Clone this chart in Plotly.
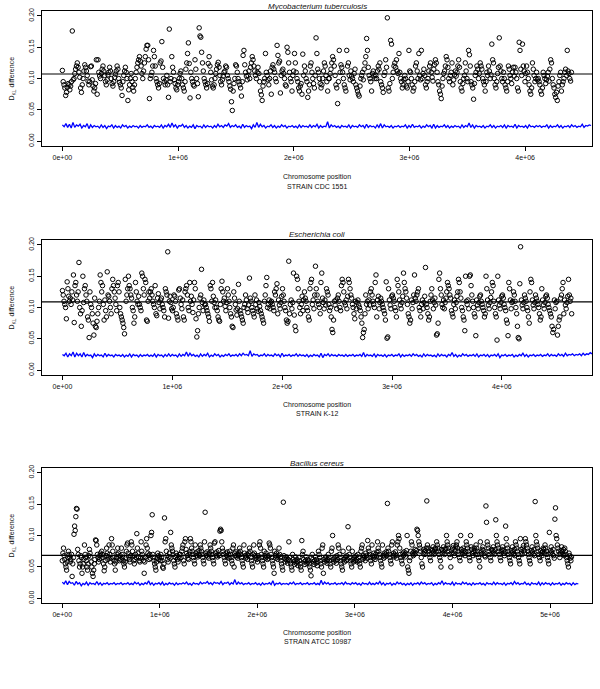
import numpy as np
import plotly.graph_objects as go

# ---------------- data ----------------
titles = ["Mycobacterium tuberculosis", "Escherichia coli", "Bacillus cereus"]
strains = ["STRAIN CDC 1551", "STRAIN K-12", "STRAIN ATCC 10987"]
x_ticks = [0, 1e6, 2e6, 3e6, 4e6, 5e6]
x_tick_labels = ["0e+00", "1e+06", "2e+06", "3e+06", "4e+06", "5e+06"]
y_ticks = [0.0, 0.05, 0.10, 0.15, 0.20]
y_tick_labels = ["0.00", "0.05", "0.10", "0.15", "0.20"]

mean_dkl = [0.1073, 0.1089, 0.0685]
scatter_end = [4.40e6, 4.635e6, 5.22e6]
blue_end = [4.57e6, 4.82e6, 5.29e6]
x_ranges = [[-0.176e6, 4.578e6], [-0.186e6, 4.82e6], [-0.208e6, 5.43e6]]

mtb_dkl = [
    0.113, 0.095, 0.090, 0.085, 0.073, 0.078, 0.086, 0.092, 0.090, 0.082, 0.088, 0.095, 0.176, 0.098,
    0.100, 0.108, 0.115, 0.120, 0.125, 0.118, 0.110, 0.102, 0.085, 0.078, 0.090, 0.100, 0.112, 0.122,
    0.118, 0.112, 0.105, 0.096, 0.090, 0.095, 0.119, 0.120, 0.098, 0.088, 0.080, 0.085, 0.092, 0.130,
    0.075, 0.130, 0.110, 0.104, 0.100, 0.108, 0.115, 0.120, 0.112, 0.105, 0.095, 0.090, 0.098, 0.106,
    0.110, 0.118, 0.112, 0.100, 0.092, 0.088, 0.095, 0.102, 0.107, 0.112, 0.120, 0.115, 0.100, 0.094,
    0.090, 0.085, 0.073, 0.095, 0.105, 0.112, 0.118, 0.110, 0.100, 0.065, 0.082, 0.090, 0.100, 0.108,
    0.095, 0.086, 0.080, 0.090, 0.100, 0.110, 0.118, 0.125, 0.130, 0.135, 0.128, 0.120, 0.108, 0.100,
    0.112, 0.125, 0.135, 0.147, 0.153, 0.153, 0.130, 0.068, 0.100, 0.105, 0.110, 0.120, 0.145, 0.135,
    0.120, 0.100, 0.095, 0.090, 0.085, 0.092, 0.125, 0.128, 0.159, 0.118, 0.100, 0.095, 0.090, 0.098,
    0.105, 0.090, 0.070, 0.179, 0.095, 0.100, 0.135, 0.118, 0.110, 0.098, 0.092, 0.085, 0.082, 0.090,
    0.095, 0.100, 0.108, 0.112, 0.100, 0.090, 0.085, 0.080, 0.095, 0.115, 0.125, 0.140, 0.157, 0.124,
    0.069, 0.110, 0.100, 0.095, 0.090, 0.088, 0.130, 0.115, 0.100, 0.092, 0.071, 0.181, 0.168, 0.166,
    0.142, 0.125, 0.112, 0.100, 0.095, 0.090, 0.085, 0.092, 0.124, 0.135, 0.120, 0.110, 0.098, 0.088,
    0.085, 0.090, 0.100, 0.108, 0.115, 0.122, 0.126, 0.118, 0.105, 0.095, 0.090, 0.098, 0.104, 0.110,
    0.112, 0.120, 0.118, 0.105, 0.100, 0.095, 0.088, 0.083, 0.063, 0.049, 0.080, 0.092, 0.100, 0.122,
    0.120, 0.110, 0.100, 0.095, 0.090, 0.085, 0.072, 0.095, 0.137, 0.145, 0.122, 0.110, 0.104, 0.098,
    0.105, 0.112, 0.100, 0.118, 0.125, 0.135, 0.130, 0.120, 0.112, 0.105, 0.100, 0.110, 0.118, 0.108,
    0.095, 0.080, 0.074, 0.065, 0.088, 0.095, 0.100, 0.140, 0.110, 0.105, 0.098, 0.090, 0.100, 0.112,
    0.075, 0.118, 0.122, 0.115, 0.110, 0.100, 0.095, 0.153, 0.137, 0.125, 0.128, 0.077, 0.105, 0.112,
    0.115, 0.108, 0.100, 0.090, 0.088, 0.150, 0.142, 0.125, 0.110, 0.100, 0.095, 0.080, 0.105, 0.112,
    0.140, 0.125, 0.110, 0.100, 0.095, 0.085, 0.080, 0.088, 0.092, 0.075, 0.139, 0.105, 0.120, 0.112,
    0.100, 0.095, 0.070, 0.080, 0.090, 0.120, 0.125, 0.110, 0.100, 0.092, 0.085, 0.105, 0.165, 0.140,
    0.115, 0.110, 0.100, 0.092, 0.085, 0.090, 0.100, 0.112, 0.125, 0.120, 0.105, 0.095, 0.080, 0.100,
    0.100, 0.108, 0.115, 0.125, 0.135, 0.130, 0.120, 0.105, 0.090, 0.085, 0.060, 0.095, 0.145, 0.110,
    0.122, 0.118, 0.110, 0.100, 0.090, 0.085, 0.080, 0.145, 0.120, 0.125, 0.105, 0.098, 0.112, 0.104,
    0.100, 0.095, 0.108, 0.115, 0.090, 0.085, 0.080, 0.075, 0.072, 0.088, 0.100, 0.105, 0.110, 0.098,
    0.115, 0.125, 0.135, 0.164, 0.145, 0.118, 0.105, 0.100, 0.095, 0.080, 0.108, 0.112, 0.104, 0.100,
    0.105, 0.100, 0.112, 0.120, 0.115, 0.125, 0.095, 0.090, 0.085, 0.078, 0.105, 0.110, 0.130, 0.118,
    0.197, 0.085, 0.080, 0.092, 0.161, 0.155, 0.100, 0.110, 0.120, 0.125, 0.118, 0.130, 0.112, 0.108,
    0.140, 0.110, 0.100, 0.095, 0.085, 0.090, 0.098, 0.105, 0.100, 0.088, 0.085, 0.095, 0.145, 0.112,
    0.110, 0.100, 0.090, 0.080, 0.085, 0.095, 0.120, 0.125, 0.112, 0.100, 0.140, 0.105, 0.098, 0.145,
    0.100, 0.108, 0.115, 0.105, 0.090, 0.085, 0.095, 0.100, 0.112, 0.120, 0.125, 0.110, 0.102, 0.096,
    0.115, 0.122, 0.130, 0.125, 0.110, 0.095, 0.090, 0.080, 0.075, 0.068, 0.088, 0.100, 0.108, 0.112,
    0.120, 0.135, 0.130, 0.118, 0.100, 0.095, 0.105, 0.110, 0.125, 0.090, 0.098, 0.106, 0.112, 0.104,
    0.110, 0.120, 0.130, 0.118, 0.095, 0.085, 0.080, 0.092, 0.100, 0.105, 0.125, 0.112, 0.100, 0.095,
    0.145, 0.138, 0.120, 0.095, 0.090, 0.085, 0.067, 0.092, 0.105, 0.110, 0.120, 0.115, 0.100, 0.108,
    0.125, 0.120, 0.115, 0.100, 0.095, 0.090, 0.080, 0.095, 0.110, 0.105, 0.120, 0.112, 0.100, 0.106,
    0.155, 0.130, 0.125, 0.100, 0.090, 0.085, 0.095, 0.108, 0.118, 0.165, 0.120, 0.112, 0.100, 0.095,
    0.110, 0.100, 0.090, 0.085, 0.080, 0.095, 0.120, 0.115, 0.105, 0.100, 0.092, 0.110, 0.118, 0.104,
    0.118, 0.110, 0.100, 0.085, 0.080, 0.158, 0.145, 0.115, 0.105, 0.155, 0.120, 0.112, 0.095, 0.108,
    0.120, 0.110, 0.100, 0.090, 0.080, 0.075, 0.085, 0.125, 0.115, 0.105, 0.095, 0.100, 0.110, 0.098,
    0.100, 0.095, 0.090, 0.080, 0.075, 0.085, 0.110, 0.105, 0.100, 0.092, 0.098, 0.104, 0.110, 0.096,
    0.115, 0.130, 0.125, 0.100, 0.090, 0.085, 0.075, 0.070, 0.078, 0.065, 0.088, 0.095, 0.105, 0.110,
    0.080, 0.090, 0.095, 0.100, 0.110, 0.115, 0.105, 0.145, 0.112, 0.108, 0.100, 0.096, 0.110,
]

eco_dkl = [
    0.127, 0.120, 0.110, 0.105, 0.100, 0.082, 0.141, 0.130, 0.118, 0.110, 0.115, 0.105, 0.125, 0.112,
    0.152, 0.076, 0.135, 0.140, 0.120, 0.110, 0.125, 0.172, 0.100, 0.090, 0.070, 0.095, 0.150, 0.108,
    0.130, 0.135, 0.120, 0.110, 0.085, 0.080, 0.052, 0.125, 0.105, 0.100, 0.090, 0.075, 0.056, 0.115,
    0.070, 0.068, 0.078, 0.090, 0.100, 0.110, 0.152, 0.140, 0.125, 0.135, 0.105, 0.080, 0.112, 0.095,
    0.085, 0.157, 0.120, 0.118, 0.110, 0.100, 0.090, 0.130, 0.145, 0.135, 0.125, 0.115, 0.105, 0.095,
    0.135, 0.140, 0.125, 0.100, 0.090, 0.085, 0.080, 0.075, 0.068, 0.058, 0.145, 0.110, 0.120, 0.130,
    0.150, 0.135, 0.130, 0.120, 0.115, 0.100, 0.095, 0.075, 0.085, 0.140, 0.125, 0.110, 0.105, 0.118,
    0.105, 0.100, 0.095, 0.155, 0.150, 0.130, 0.120, 0.145, 0.140, 0.080, 0.078, 0.110, 0.125, 0.115,
    0.125, 0.130, 0.120, 0.110, 0.105, 0.100, 0.135, 0.090, 0.087, 0.115, 0.122, 0.108, 0.098, 0.112,
    0.115, 0.105, 0.100, 0.095, 0.085, 0.130, 0.125, 0.120, 0.189, 0.083, 0.110, 0.118, 0.108, 0.098,
    0.095, 0.100, 0.120, 0.118, 0.110, 0.090, 0.085, 0.080, 0.128, 0.130, 0.115, 0.105, 0.098, 0.112,
    0.085, 0.080, 0.125, 0.130, 0.135, 0.120, 0.100, 0.095, 0.140, 0.110, 0.118, 0.105, 0.092, 0.112,
    0.140, 0.130, 0.082, 0.053, 0.063, 0.090, 0.100, 0.115, 0.120, 0.161, 0.108, 0.095, 0.112, 0.104,
    0.105, 0.100, 0.095, 0.090, 0.085, 0.078, 0.135, 0.130, 0.110, 0.140, 0.118, 0.108, 0.100, 0.112,
    0.100, 0.095, 0.085, 0.080, 0.078, 0.105, 0.130, 0.142, 0.125, 0.110, 0.115, 0.102, 0.095, 0.108,
    0.130, 0.120, 0.110, 0.100, 0.090, 0.085, 0.070, 0.068, 0.125, 0.115, 0.105, 0.096, 0.088, 0.098,
    0.137, 0.110, 0.095, 0.090, 0.085, 0.080, 0.075, 0.100, 0.105, 0.120, 0.112, 0.098, 0.092, 0.104,
    0.147, 0.115, 0.110, 0.100, 0.095, 0.090, 0.085, 0.120, 0.105, 0.112, 0.098, 0.094, 0.108, 0.102,
    0.095, 0.090, 0.085, 0.080, 0.075, 0.110, 0.120, 0.135, 0.148, 0.100, 0.105, 0.112, 0.098, 0.108,
    0.110, 0.105, 0.100, 0.095, 0.125, 0.120, 0.130, 0.138, 0.090, 0.112, 0.104, 0.098, 0.108, 0.118,
    0.130, 0.120, 0.110, 0.100, 0.095, 0.080, 0.075, 0.078, 0.174, 0.090, 0.105, 0.112, 0.098, 0.108,
    0.155, 0.088, 0.070, 0.063, 0.150, 0.145, 0.130, 0.110, 0.100, 0.090, 0.105, 0.118, 0.095, 0.112,
    0.125, 0.115, 0.110, 0.100, 0.095, 0.085, 0.080, 0.130, 0.140, 0.145, 0.105, 0.112, 0.098, 0.120,
    0.166, 0.130, 0.120, 0.110, 0.105, 0.100, 0.090, 0.140, 0.155, 0.115, 0.108, 0.098, 0.112, 0.104,
    0.130, 0.125, 0.120, 0.105, 0.095, 0.100, 0.085, 0.065, 0.060, 0.080, 0.110, 0.104, 0.112, 0.098,
    0.115, 0.120, 0.110, 0.100, 0.095, 0.135, 0.145, 0.140, 0.125, 0.108, 0.104, 0.112, 0.098, 0.118,
    0.145, 0.140, 0.130, 0.120, 0.115, 0.105, 0.100, 0.090, 0.082, 0.110, 0.098, 0.108, 0.112, 0.104,
    0.100, 0.095, 0.085, 0.075, 0.052, 0.060, 0.065, 0.090, 0.120, 0.105, 0.110, 0.098, 0.112, 0.104,
    0.125, 0.130, 0.120, 0.110, 0.105, 0.100, 0.140, 0.152, 0.085, 0.112, 0.118, 0.098, 0.108, 0.115,
    0.110, 0.105, 0.100, 0.095, 0.090, 0.080, 0.141, 0.051, 0.053, 0.130, 0.112, 0.104, 0.098, 0.118,
    0.120, 0.115, 0.110, 0.100, 0.095, 0.085, 0.145, 0.135, 0.125, 0.112, 0.104, 0.098, 0.108, 0.118,
    0.155, 0.140, 0.130, 0.125, 0.115, 0.105, 0.090, 0.085, 0.075, 0.080, 0.112, 0.098, 0.108, 0.120,
    0.152, 0.115, 0.110, 0.120, 0.125, 0.130, 0.100, 0.095, 0.085, 0.105, 0.112, 0.098, 0.108, 0.118,
    0.164, 0.105, 0.100, 0.090, 0.080, 0.085, 0.110, 0.120, 0.130, 0.112, 0.098, 0.108, 0.115, 0.104,
    0.056, 0.058, 0.075, 0.145, 0.155, 0.130, 0.120, 0.105, 0.100, 0.112, 0.098, 0.108, 0.115, 0.125,
    0.140, 0.135, 0.130, 0.120, 0.115, 0.095, 0.090, 0.085, 0.105, 0.112, 0.098, 0.108, 0.118, 0.125,
    0.145, 0.140, 0.125, 0.115, 0.100, 0.095, 0.085, 0.080, 0.063, 0.150, 0.110, 0.105, 0.112, 0.098,
    0.150, 0.152, 0.135, 0.120, 0.110, 0.100, 0.090, 0.085, 0.055, 0.112, 0.104, 0.098, 0.108, 0.118,
    0.120, 0.110, 0.105, 0.100, 0.095, 0.085, 0.090, 0.150, 0.130, 0.112, 0.104, 0.098, 0.108, 0.116,
    0.125, 0.140, 0.135, 0.110, 0.100, 0.090, 0.085, 0.048, 0.150, 0.112, 0.104, 0.098, 0.108, 0.118,
    0.120, 0.115, 0.105, 0.100, 0.095, 0.080, 0.075, 0.055, 0.140, 0.130, 0.112, 0.098, 0.108, 0.110,
    0.125, 0.120, 0.110, 0.100, 0.090, 0.070, 0.052, 0.050, 0.138, 0.197, 0.112, 0.104, 0.098, 0.108,
    0.120, 0.115, 0.110, 0.100, 0.095, 0.085, 0.075, 0.125, 0.145, 0.140, 0.112, 0.104, 0.098, 0.108,
    0.120, 0.115, 0.110, 0.105, 0.100, 0.090, 0.080, 0.085, 0.130, 0.112, 0.104, 0.098, 0.108, 0.118,
    0.120, 0.115, 0.105, 0.100, 0.095, 0.090, 0.085, 0.070, 0.060, 0.065, 0.112, 0.098, 0.108, 0.110,
    0.056, 0.070, 0.080, 0.085, 0.115, 0.120, 0.130, 0.140, 0.090, 0.112, 0.104, 0.098, 0.108, 0.118,
    0.145, 0.120, 0.110, 0.115, 0.090,
]

bce_dkl = [
    0.060, 0.072, 0.080, 0.068, 0.062, 0.055, 0.050, 0.045, 0.058, 0.065, 0.075, 0.070, 0.066, 0.058, 0.062, 0.070,
    0.035, 0.055, 0.065, 0.102, 0.115, 0.108, 0.130, 0.143, 0.142, 0.078, 0.070, 0.060, 0.050, 0.055, 0.068, 0.065,
    0.040, 0.050, 0.055, 0.062, 0.085, 0.070, 0.065, 0.060, 0.050, 0.045, 0.055, 0.068, 0.078, 0.072, 0.066, 0.058,
    0.050, 0.040, 0.035, 0.045, 0.055, 0.062, 0.093, 0.092, 0.085, 0.070, 0.065, 0.058, 0.062, 0.068, 0.072, 0.064,
    0.075, 0.070, 0.065, 0.055, 0.044, 0.050, 0.060, 0.068, 0.080, 0.072, 0.062, 0.066, 0.085, 0.070, 0.058, 0.064,
    0.095, 0.085, 0.075, 0.065, 0.060, 0.055, 0.045, 0.058, 0.066, 0.070, 0.080, 0.072, 0.064, 0.060, 0.068, 0.062,
    0.080, 0.070, 0.065, 0.060, 0.055, 0.050, 0.058, 0.064, 0.075, 0.085, 0.088, 0.072, 0.066, 0.062, 0.058, 0.068,
    0.090, 0.085, 0.075, 0.068, 0.060, 0.055, 0.062, 0.070, 0.065, 0.103, 0.080, 0.072, 0.066, 0.060, 0.058, 0.064,
    0.090, 0.075, 0.070, 0.065, 0.060, 0.040, 0.058, 0.066, 0.085, 0.095, 0.080, 0.072, 0.068, 0.062, 0.070, 0.064,
    0.100, 0.105, 0.133, 0.070, 0.065, 0.060, 0.055, 0.050, 0.045, 0.058, 0.064, 0.072, 0.068, 0.062, 0.066, 0.060,
    0.070, 0.065, 0.060, 0.050, 0.048, 0.055, 0.128, 0.090, 0.095, 0.075, 0.068, 0.062, 0.058, 0.066, 0.072, 0.064,
    0.105, 0.085, 0.080, 0.075, 0.070, 0.060, 0.055, 0.050, 0.065, 0.072, 0.068, 0.062, 0.058, 0.066, 0.070, 0.064,
    0.070, 0.065, 0.075, 0.080, 0.085, 0.060, 0.055, 0.090, 0.095, 0.078, 0.072, 0.068, 0.064, 0.062, 0.070, 0.074,
    0.095, 0.090, 0.080, 0.075, 0.070, 0.065, 0.060, 0.055, 0.085, 0.072, 0.068, 0.074, 0.066, 0.070, 0.076, 0.068,
    0.085, 0.080, 0.075, 0.070, 0.065, 0.060, 0.055, 0.090, 0.137, 0.072, 0.068, 0.074, 0.066, 0.070, 0.064, 0.072,
    0.085, 0.080, 0.075, 0.070, 0.065, 0.060, 0.055, 0.088, 0.090, 0.072, 0.068, 0.074, 0.066, 0.070, 0.076, 0.068,
    0.107, 0.110, 0.108, 0.090, 0.080, 0.075, 0.070, 0.065, 0.060, 0.055, 0.072, 0.068, 0.074, 0.066, 0.070, 0.064,
    0.075, 0.070, 0.065, 0.060, 0.055, 0.080, 0.085, 0.050, 0.072, 0.068, 0.074, 0.066, 0.070, 0.064, 0.068, 0.072,
    0.080, 0.075, 0.070, 0.065, 0.060, 0.055, 0.050, 0.085, 0.072, 0.068, 0.064, 0.066, 0.070, 0.062, 0.068, 0.072,
    0.080, 0.075, 0.065, 0.060, 0.055, 0.050, 0.070, 0.085, 0.072, 0.068, 0.064, 0.066, 0.062, 0.058, 0.068, 0.064,
    0.085, 0.090, 0.080, 0.070, 0.065, 0.060, 0.055, 0.050, 0.075, 0.068, 0.064, 0.072, 0.066, 0.062, 0.068, 0.064,
    0.088, 0.085, 0.080, 0.070, 0.065, 0.060, 0.055, 0.050, 0.040, 0.075, 0.068, 0.064, 0.072, 0.066, 0.062, 0.068,
    0.080, 0.070, 0.065, 0.060, 0.055, 0.050, 0.045, 0.153, 0.068, 0.064, 0.058, 0.062, 0.066, 0.060, 0.056, 0.062,
    0.090, 0.065, 0.060, 0.055, 0.050, 0.045, 0.070, 0.062, 0.058, 0.054, 0.060, 0.066, 0.056, 0.062, 0.058, 0.052,
    0.065, 0.060, 0.055, 0.050, 0.045, 0.092, 0.070, 0.075, 0.062, 0.058, 0.054, 0.060, 0.066, 0.056, 0.062, 0.058,
    0.060, 0.055, 0.050, 0.045, 0.036, 0.065, 0.070, 0.062, 0.058, 0.054, 0.060, 0.066, 0.056, 0.062, 0.052, 0.058,
    0.075, 0.070, 0.065, 0.060, 0.055, 0.050, 0.080, 0.085, 0.040, 0.062, 0.058, 0.064, 0.066, 0.060, 0.056, 0.062,
    0.070, 0.065, 0.060, 0.055, 0.050, 0.075, 0.080, 0.100, 0.062, 0.058, 0.064, 0.066, 0.060, 0.056, 0.068, 0.062,
    0.085, 0.080, 0.070, 0.065, 0.060, 0.055, 0.050, 0.045, 0.075, 0.062, 0.058, 0.064, 0.066, 0.060, 0.068, 0.062,
    0.114, 0.080, 0.070, 0.065, 0.060, 0.055, 0.050, 0.075, 0.062, 0.058, 0.064, 0.066, 0.060, 0.068, 0.062, 0.058,
    0.070, 0.065, 0.060, 0.055, 0.050, 0.075, 0.080, 0.085, 0.062, 0.068, 0.064, 0.066, 0.060, 0.072, 0.068, 0.064,
    0.092, 0.080, 0.075, 0.070, 0.065, 0.060, 0.055, 0.085, 0.068, 0.064, 0.072, 0.066, 0.062, 0.070, 0.066, 0.074,
    0.090, 0.080, 0.075, 0.070, 0.065, 0.060, 0.055, 0.050, 0.085, 0.068, 0.064, 0.072, 0.066, 0.070, 0.074, 0.068,
    0.151, 0.080, 0.075, 0.070, 0.065, 0.060, 0.055, 0.085, 0.090, 0.068, 0.072, 0.066, 0.070, 0.074, 0.068, 0.064,
    0.085, 0.090, 0.100, 0.095, 0.080, 0.070, 0.065, 0.060, 0.055, 0.072, 0.068, 0.074, 0.070, 0.066, 0.072, 0.076,
    0.100, 0.050, 0.045, 0.040, 0.060, 0.065, 0.075, 0.090, 0.085, 0.072, 0.068, 0.074, 0.070, 0.078, 0.072, 0.076,
    0.110, 0.108, 0.100, 0.090, 0.085, 0.080, 0.075, 0.065, 0.055, 0.050, 0.072, 0.078, 0.074, 0.070, 0.076, 0.080,
    0.155, 0.085, 0.080, 0.075, 0.070, 0.065, 0.060, 0.078, 0.072, 0.076, 0.082, 0.074, 0.070, 0.078, 0.080, 0.074,
    0.090, 0.085, 0.080, 0.075, 0.070, 0.065, 0.060, 0.050, 0.078, 0.072, 0.076, 0.082, 0.074, 0.070, 0.078, 0.080,
    0.100, 0.090, 0.085, 0.080, 0.075, 0.070, 0.065, 0.050, 0.076, 0.072, 0.080, 0.084, 0.072, 0.068, 0.076, 0.082,
    0.085, 0.090, 0.080, 0.075, 0.070, 0.065, 0.060, 0.100, 0.078, 0.074, 0.070, 0.080, 0.076, 0.072, 0.068, 0.074,
    0.090, 0.085, 0.080, 0.075, 0.070, 0.065, 0.060, 0.100, 0.082, 0.078, 0.072, 0.068, 0.074, 0.080, 0.076, 0.070,
    0.085, 0.080, 0.075, 0.070, 0.065, 0.060, 0.050, 0.090, 0.074, 0.070, 0.078, 0.082, 0.076, 0.072, 0.068, 0.066,
    0.147, 0.121, 0.090, 0.085, 0.080, 0.075, 0.070, 0.065, 0.060, 0.078, 0.072, 0.076, 0.082, 0.074, 0.070, 0.078,
    0.125, 0.100, 0.090, 0.085, 0.080, 0.075, 0.070, 0.065, 0.060, 0.074, 0.078, 0.082, 0.076, 0.072, 0.068, 0.074,
    0.115, 0.095, 0.085, 0.080, 0.075, 0.070, 0.065, 0.060, 0.055, 0.072, 0.076, 0.082, 0.074, 0.070, 0.078, 0.068,
    0.090, 0.085, 0.080, 0.075, 0.070, 0.065, 0.060, 0.055, 0.095, 0.078, 0.074, 0.070, 0.080, 0.084, 0.076, 0.072,
    0.095, 0.090, 0.085, 0.080, 0.075, 0.070, 0.065, 0.060, 0.055, 0.072, 0.076, 0.082, 0.074, 0.070, 0.078, 0.068,
    0.154, 0.100, 0.090, 0.085, 0.080, 0.075, 0.070, 0.065, 0.060, 0.076, 0.072, 0.068, 0.074, 0.080, 0.078, 0.072,
    0.085, 0.080, 0.075, 0.070, 0.065, 0.060, 0.055, 0.105, 0.072, 0.076, 0.082, 0.074, 0.070, 0.078, 0.068, 0.064,
    0.126, 0.144, 0.100, 0.095, 0.085, 0.080, 0.075, 0.070, 0.065, 0.072, 0.076, 0.082, 0.074, 0.070, 0.078, 0.068,
    0.080, 0.075, 0.070, 0.065, 0.060, 0.055, 0.050, 0.072, 0.068, 0.064, 0.060, 0.066,
]

mtb_blue = [
    0.026, 0.023, 0.028, 0.022, 0.027, 0.021, 0.030, 0.022, 0.026, 0.024,
    0.027, 0.021, 0.025, 0.023, 0.028, 0.020, 0.026, 0.022, 0.025, 0.023,
    0.024, 0.021, 0.026, 0.022, 0.025, 0.020, 0.024, 0.023, 0.026, 0.021,
    0.025, 0.022, 0.024, 0.021, 0.026, 0.023, 0.025, 0.021, 0.024, 0.022,
    0.025, 0.023, 0.024, 0.021, 0.025, 0.022, 0.024, 0.023, 0.026, 0.022,
    0.024, 0.021, 0.025, 0.023, 0.024, 0.022, 0.026, 0.021, 0.025, 0.023,
    0.027, 0.022, 0.029, 0.023, 0.026, 0.021, 0.025, 0.024, 0.027, 0.022,
    0.025, 0.021, 0.024, 0.022, 0.026, 0.020, 0.025, 0.023, 0.024, 0.021,
    0.026, 0.022, 0.025, 0.023, 0.024, 0.021, 0.025, 0.022, 0.027, 0.023,
    0.025, 0.022, 0.026, 0.024, 0.028, 0.022, 0.025, 0.023, 0.026, 0.022,
    0.024, 0.021, 0.027, 0.022, 0.025, 0.023, 0.024, 0.020, 0.026, 0.022,
    0.030, 0.022, 0.027, 0.023, 0.025, 0.021, 0.024, 0.023, 0.026, 0.022,
    0.025, 0.021, 0.024, 0.022, 0.026, 0.023, 0.025, 0.021, 0.024, 0.023,
    0.025, 0.022, 0.024, 0.021, 0.026, 0.022, 0.025, 0.023, 0.024, 0.022,
    0.026, 0.022, 0.025, 0.023, 0.027, 0.021, 0.025, 0.022, 0.024, 0.023,
    0.031, 0.021, 0.026, 0.023, 0.025, 0.022, 0.024, 0.021, 0.025, 0.023,
    0.024, 0.022, 0.026, 0.021, 0.025, 0.023, 0.024, 0.022, 0.026, 0.023,
    0.025, 0.021, 0.027, 0.022, 0.025, 0.023, 0.024, 0.021, 0.026, 0.022,
    0.028, 0.021, 0.026, 0.023, 0.024, 0.022, 0.025, 0.021, 0.024, 0.023,
    0.025, 0.022, 0.024, 0.023, 0.026, 0.021, 0.025, 0.022, 0.027, 0.022,
    0.024, 0.023, 0.025, 0.021, 0.024, 0.022, 0.026, 0.023, 0.025, 0.021,
    0.027, 0.021, 0.025, 0.022, 0.024, 0.023, 0.026, 0.022, 0.025, 0.021,
    0.024, 0.022, 0.025, 0.023, 0.024, 0.021, 0.026, 0.022, 0.025, 0.023,
    0.029, 0.022, 0.026, 0.021, 0.025, 0.023, 0.024, 0.022, 0.025, 0.021,
    0.024, 0.023, 0.026, 0.022, 0.025, 0.021, 0.024, 0.023, 0.025, 0.022,
    0.026, 0.021, 0.025, 0.023, 0.024, 0.022, 0.027, 0.021, 0.025, 0.023,
    0.024, 0.022, 0.025, 0.021, 0.026, 0.023, 0.024, 0.022, 0.025, 0.023,
    0.025, 0.022, 0.024, 0.023, 0.026, 0.021, 0.025, 0.022, 0.024, 0.023,
    0.026, 0.022, 0.025, 0.021, 0.024, 0.023, 0.025, 0.022, 0.026, 0.023,
    0.025, 0.022, 0.024, 0.023, 0.027, 0.022, 0.025, 0.024, 0.026, 0.025,
]

eco_blue = [
    0.025, 0.023, 0.027, 0.021, 0.026, 0.023, 0.029, 0.021, 0.027, 0.023,
    0.026, 0.021, 0.028, 0.022, 0.025, 0.023, 0.024, 0.020, 0.026, 0.022,
    0.025, 0.023, 0.024, 0.021, 0.027, 0.022, 0.025, 0.023, 0.024, 0.021,
    0.025, 0.023, 0.024, 0.022, 0.025, 0.021, 0.024, 0.022, 0.026, 0.021,
    0.025, 0.023, 0.024, 0.021, 0.025, 0.022, 0.024, 0.023, 0.025, 0.022,
    0.024, 0.022, 0.026, 0.021, 0.025, 0.023, 0.024, 0.021, 0.025, 0.022,
    0.026, 0.022, 0.025, 0.023, 0.024, 0.021, 0.026, 0.022, 0.025, 0.023,
    0.029, 0.022, 0.027, 0.023, 0.025, 0.022, 0.024, 0.021, 0.026, 0.022,
    0.025, 0.023, 0.027, 0.021, 0.024, 0.022, 0.026, 0.023, 0.025, 0.021,
    0.024, 0.022, 0.025, 0.023, 0.026, 0.022, 0.024, 0.023, 0.025, 0.022,
    0.026, 0.023, 0.027, 0.024, 0.025, 0.023, 0.031, 0.022, 0.026, 0.024,
    0.025, 0.022, 0.024, 0.023, 0.026, 0.022, 0.025, 0.023, 0.024, 0.022,
    0.026, 0.023, 0.025, 0.021, 0.027, 0.022, 0.024, 0.023, 0.025, 0.022,
    0.024, 0.023, 0.026, 0.022, 0.025, 0.023, 0.024, 0.022, 0.025, 0.021,
    0.024, 0.022, 0.025, 0.023, 0.024, 0.021, 0.027, 0.020, 0.025, 0.023,
    0.026, 0.022, 0.025, 0.023, 0.024, 0.022, 0.025, 0.023, 0.024, 0.022,
    0.025, 0.022, 0.024, 0.023, 0.025, 0.022, 0.024, 0.023, 0.025, 0.022,
    0.028, 0.021, 0.025, 0.023, 0.024, 0.022, 0.026, 0.021, 0.025, 0.023,
    0.024, 0.022, 0.025, 0.021, 0.024, 0.023, 0.025, 0.022, 0.024, 0.023,
    0.026, 0.021, 0.025, 0.022, 0.024, 0.023, 0.025, 0.022, 0.026, 0.023,
    0.025, 0.022, 0.024, 0.021, 0.026, 0.022, 0.025, 0.023, 0.024, 0.022,
    0.024, 0.021, 0.026, 0.022, 0.025, 0.023, 0.024, 0.021, 0.025, 0.023,
    0.028, 0.022, 0.025, 0.021, 0.024, 0.022, 0.026, 0.023, 0.025, 0.022,
    0.024, 0.023, 0.025, 0.022, 0.026, 0.021, 0.024, 0.023, 0.025, 0.022,
    0.025, 0.021, 0.024, 0.023, 0.025, 0.022, 0.026, 0.020, 0.024, 0.023,
    0.025, 0.022, 0.024, 0.023, 0.025, 0.021, 0.024, 0.022, 0.025, 0.023,
    0.027, 0.022, 0.025, 0.021, 0.024, 0.023, 0.025, 0.022, 0.024, 0.023,
    0.025, 0.022, 0.024, 0.023, 0.026, 0.022, 0.025, 0.023, 0.024, 0.022,
    0.026, 0.023, 0.025, 0.022, 0.027, 0.023, 0.025, 0.024, 0.026, 0.023,
    0.025, 0.024, 0.026, 0.023, 0.027, 0.024, 0.026, 0.025, 0.028, 0.026,
]

bce_blue = [
    0.026, 0.023, 0.028, 0.022, 0.027, 0.024, 0.025, 0.021, 0.027, 0.023,
    0.025, 0.020, 0.024, 0.022, 0.026, 0.021, 0.025, 0.023, 0.024, 0.022,
    0.027, 0.022, 0.025, 0.021, 0.024, 0.023, 0.025, 0.022, 0.024, 0.023,
    0.025, 0.022, 0.024, 0.023, 0.025, 0.022, 0.024, 0.023, 0.025, 0.022,
    0.024, 0.022, 0.026, 0.023, 0.025, 0.021, 0.024, 0.022, 0.025, 0.023,
    0.028, 0.022, 0.025, 0.021, 0.024, 0.023, 0.025, 0.022, 0.026, 0.021,
    0.024, 0.022, 0.025, 0.023, 0.024, 0.021, 0.025, 0.022, 0.024, 0.023,
    0.025, 0.023, 0.026, 0.022, 0.024, 0.021, 0.025, 0.023, 0.024, 0.022,
    0.026, 0.023, 0.025, 0.024, 0.027, 0.023, 0.025, 0.022, 0.026, 0.024,
    0.025, 0.023, 0.027, 0.022, 0.025, 0.024, 0.026, 0.022, 0.025, 0.023,
    0.030, 0.022, 0.026, 0.023, 0.025, 0.022, 0.024, 0.023, 0.025, 0.022,
    0.024, 0.023, 0.025, 0.022, 0.024, 0.021, 0.025, 0.022, 0.024, 0.023,
    0.025, 0.022, 0.028, 0.021, 0.024, 0.023, 0.025, 0.022, 0.024, 0.023,
    0.024, 0.022, 0.025, 0.023, 0.026, 0.022, 0.024, 0.023, 0.025, 0.022,
    0.024, 0.023, 0.025, 0.022, 0.024, 0.023, 0.025, 0.022, 0.024, 0.022,
    0.029, 0.022, 0.026, 0.023, 0.025, 0.022, 0.024, 0.023, 0.025, 0.022,
    0.024, 0.023, 0.025, 0.022, 0.026, 0.023, 0.024, 0.022, 0.025, 0.023,
    0.025, 0.022, 0.024, 0.021, 0.025, 0.023, 0.024, 0.022, 0.026, 0.022,
    0.024, 0.022, 0.025, 0.023, 0.027, 0.022, 0.025, 0.021, 0.024, 0.023,
    0.025, 0.021, 0.024, 0.022, 0.026, 0.023, 0.025, 0.022, 0.024, 0.021,
    0.024, 0.022, 0.025, 0.021, 0.024, 0.023, 0.025, 0.022, 0.026, 0.023,
    0.025, 0.022, 0.024, 0.023, 0.025, 0.021, 0.024, 0.022, 0.025, 0.023,
    0.028, 0.022, 0.025, 0.023, 0.024, 0.022, 0.026, 0.021, 0.025, 0.023,
    0.024, 0.022, 0.026, 0.023, 0.025, 0.022, 0.024, 0.021, 0.025, 0.022,
    0.024, 0.023, 0.025, 0.022, 0.024, 0.021, 0.025, 0.023, 0.024, 0.022,
    0.026, 0.022, 0.025, 0.023, 0.024, 0.022, 0.025, 0.021, 0.024, 0.023,
    0.025, 0.022, 0.027, 0.023, 0.025, 0.022, 0.024, 0.023, 0.026, 0.022,
    0.024, 0.021, 0.025, 0.023, 0.024, 0.022, 0.026, 0.021, 0.025, 0.022,
    0.025, 0.023, 0.024, 0.021, 0.025, 0.022, 0.024, 0.023, 0.025, 0.021,
    0.024, 0.022, 0.025, 0.023, 0.024, 0.021, 0.025, 0.022, 0.024, 0.023,
]

dkl_series = [mtb_dkl, eco_dkl, bce_dkl]
blue_series = [mtb_blue, eco_blue, bce_blue]

# ---------------- layout geometry (page pixels) ----------------
W, H = 600, 689
box_left, box_right = 42, 592
box_tops = [8, 238.3, 467.3]
box_bottoms = [144, 374.3, 604]
title_y = [4, 233.3, 463.3]
xlab_y = [[175.5, 184.5], [404, 413], [634, 642.5]]
n_xticks = [5, 5, 6]

def px(p):
    return p / W

def py(p):
    return 1 - p / H

FONT = "Liberation Sans, Arial, sans-serif"
TXT = "#111111"
fig = go.Figure()
layout = dict(
    width=W, height=H, margin=dict(l=0, r=0, t=0, b=0),
    paper_bgcolor="white", plot_bgcolor="white", showlegend=False,
    font=dict(family=FONT, size=7, color=TXT),
)
annotations = []
shapes = []

for i in range(3):
    sfx = "" if i == 0 else str(i + 1)
    xa, ya = "x" + sfx, "y" + sfx
    vals = dkl_series[i]
    xs = np.linspace(0, scatter_end[i], len(vals))
    fig.add_trace(go.Scatter(
        x=xs, y=vals, mode="markers", xaxis=xa, yaxis=ya, cliponaxis=False,
        marker=dict(symbol="circle-open", size=4.5, color="black", line=dict(width=1, color="black")),
    ))
    bl = blue_series[i]
    bx = np.linspace(0, blue_end[i], len(bl))
    fig.add_trace(go.Scatter(
        x=bx, y=bl, mode="lines", xaxis=xa, yaxis=ya,
        line=dict(color="#0000FF", width=1.3),
    ))
    common = dict(showgrid=False, zeroline=False, showline=True, mirror=True,
                  linecolor="black", linewidth=1, ticks="outside", ticklen=4,
                  tickwidth=1, tickcolor="black",
                  tickfont=dict(size=7, family=FONT, color=TXT))
    layout["xaxis" + sfx] = dict(
        domain=[px(box_left), px(box_right)], anchor=ya, range=x_ranges[i],
        tickvals=x_ticks[:n_xticks[i]], ticktext=x_tick_labels[:n_xticks[i]], **common)
    layout["yaxis" + sfx] = dict(
        domain=[py(box_bottoms[i]), py(box_tops[i])], anchor=xa, range=[-0.008, 0.208],
        tickvals=y_ticks, ticktext=y_tick_labels, tickangle=-90, **common)
    shapes.append(dict(type="line", xref=xa + " domain", yref=ya, x0=0, x1=1,
                       y0=mean_dkl[i], y1=mean_dkl[i], line=dict(color="black", width=1.2)))
    cx = px((box_left + box_right) / 2)
    annotations.append(dict(text="<i>" + titles[i] + "</i>", x=cx, y=py(title_y[i]),
                            xref="paper", yref="paper", showarrow=False, yanchor="middle",
                            font=dict(size=8, family=FONT, color=TXT)))
    annotations.append(dict(text="Chromosome position", x=cx, y=py(xlab_y[i][0]),
                            xref="paper", yref="paper", showarrow=False, yanchor="middle",
                            font=dict(size=7, family=FONT, color=TXT)))
    annotations.append(dict(text=strains[i], x=cx, y=py(xlab_y[i][1]),
                            xref="paper", yref="paper", showarrow=False, yanchor="middle",
                            font=dict(size=7, family=FONT, color=TXT)))
    annotations.append(dict(text="D<sub>KL</sub> difference", x=px(12),
                            y=py((box_tops[i] + box_bottoms[i]) / 2),
                            xref="paper", yref="paper", showarrow=False, textangle=-90,
                            xanchor="center", yanchor="middle",
                            font=dict(size=7, family=FONT, color=TXT)))

layout["annotations"] = annotations
layout["shapes"] = shapes
fig.update_layout(**layout)
fig.write_html("out.html", config={"displayModeBar": False},
               post_script="document.body.style.margin='0px';")
